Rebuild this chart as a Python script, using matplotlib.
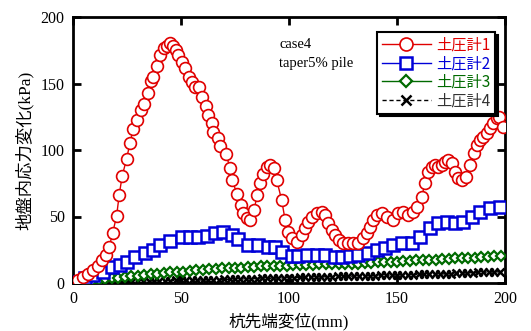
import matplotlib
matplotlib.use("Agg")
import matplotlib.pyplot as plt

# ---- data ----
red_x = [0, 2.5, 4.8, 7, 9.4, 11.5, 13.5, 15.5, 16.8, 18.4, 20.2, 21.4, 22.8, 24.8, 26.4, 27.9, 29.5,
         31.3, 32.9, 34.6, 36.1, 37.2, 39, 40.3, 42.3, 43.5, 44.9, 46.4, 47.5, 48.8, 50.6, 51.9, 53.9,
         55, 56.5, 58.5, 59.9, 61.6, 62.6, 64.2, 65, 67, 68, 70.8, 72.7, 73.8, 75.8, 77.6, 78.8, 80.7,
         81.9, 83.8, 85.3, 86.6, 88.1, 90, 91.2, 93.2, 94.3, 96.6, 98.2, 99.7, 101.2, 103.6, 105.9,
         107.4, 109, 110.5, 112.8, 115.1, 116.7, 118.2, 119.8, 121.3, 123.3, 125.2, 127.5, 129.8,
         132.1, 134.4, 136, 137.5, 139, 140.6, 142.9, 145.2, 148.3, 150.6, 152.9, 155.2, 157.6, 159.1,
         161.4, 163, 164.5, 166.1, 167.6, 169.1, 170.7, 172.2, 173.7, 175.3, 176.8, 178.4, 179.9,
         181.9, 183.8, 185.6, 186.9, 188.4, 189.9, 191.5, 193, 194.6, 196.1, 197.3, 199]
red_y = [0, 2, 4.7, 7, 10, 13, 17, 21, 27.3, 37.8, 50.6, 66.4, 80.7, 93.2, 105.5, 116, 122.6,
         130, 134.6, 142.6, 151.9, 155, 163, 171.5, 177, 178.5, 180.7, 178.2, 175, 171.5, 166, 161.4, 155,
         151.4, 147.6, 147.2, 140, 133, 126, 120, 113.8, 108.8, 103, 96.8, 86.7, 77.5, 67, 58.7, 52.4, 48.6,
         47.4, 54.9, 66.2, 75.4, 81.7, 87.5, 88.7, 86.2, 77.5, 62.4, 47.4, 38.6, 33.6, 31, 36.1,
         41.1, 46.1, 49.9, 52.9, 53.6, 51.1, 44.8, 39.7, 36.1, 32.3, 29.8, 29.8, 30.3,
         30.3, 33.6, 37.3, 42.4, 47.4, 51.1, 52.4, 49.9, 47.4, 52.4, 53.6, 51.1, 53.6, 57.4,
         64.9, 75, 83.7, 87.5, 88.7, 87.5, 88.7, 91.2, 92.5, 90, 83.7, 78.7, 77.4,
         79.9, 88.7, 97.5, 103.7, 107.5, 110, 112.5, 116.2, 120, 123.8, 125, 117.5]

blue_x = [0.9, 5.6, 9.4, 14, 17.9, 21.8, 25.2, 28.7, 33.3, 37.2, 40.3, 44.9, 50.3, 54.2, 58, 61.9,
          65.7, 69.6, 73.5, 76.5, 81.2, 85.8, 90.4, 93.5, 96.6, 101.2, 104.3, 108.2, 112.8, 116.7,
          121.3, 124.4, 128.2, 132.1, 136.7, 140.6, 144.5, 148.3, 152.2, 156.8, 160.7, 165.3, 169.1,
          173, 176.8, 180.7, 184.6, 188.4, 193, 197.7]
blue_y = [1, 3.5, 6, 8.5, 12.3, 13.5, 16, 19.3, 22.3, 24.8, 28.6, 31.8, 34.3, 34.8, 34.8, 35.4,
          37.4, 38.6, 36.1, 32.8, 28.6, 28.6, 27.3, 27.3, 23.6, 20.3, 20.3, 21.1, 21.1, 21.1,
          19.8, 19.8, 20.3, 21.1, 22.3, 24.8, 26.1, 28.6, 29.9, 29.9, 34.8, 41.1, 44.9,
          46.1, 44.9, 46.1, 49.9, 53.6, 56.2, 56.9]

green_x = [0, 3, 6, 9, 12, 15, 18, 21, 24, 27, 30, 33, 36, 39, 42, 45, 48, 51, 54, 57, 60, 63, 66,
           69, 72, 75, 78, 81, 84, 87, 90, 93, 96, 99, 102, 105, 108, 111, 114, 117, 120, 123, 126,
           129, 132, 135, 138, 141, 144, 147, 150, 153, 156, 159, 162, 165, 168, 171, 174, 177, 180,
           183, 186, 189, 192, 195, 198]
green_y = [0, 0.5, 1, 1.5, 2.5, 3, 3.5, 4, 4.5, 5, 5.5, 6, 6.5, 7, 7.5, 8, 8.5, 8.5, 9, 9.5, 10, 10.5, 10.5,
           11, 11, 11.5, 11.5, 12, 12, 12.5, 12.5, 13, 13, 13, 13.5, 13.5, 13.5, 13.5, 14, 14, 14, 14, 14.5,
           14.5, 14.5, 15, 15, 15.5, 15.5, 16, 16, 16.5, 16.5, 17, 17, 17.5, 17.5, 18, 18, 18.5, 18.5,
           19, 19, 19.5, 19.5, 20, 20.5]

black_x = [i * 2.5 for i in range(80)]
black_y = [0, 0.2, 0.4, 0.5, 0.6, 0.8, 0.9, 1, 1,
           1.1, 1.2, 1.2, 1.3, 1.4, 1.5, 1.5, 1.6, 1.7, 1.8, 1.9, 2,
           2, 2.1, 2.2, 2.3, 2.4, 2.5, 2.6, 2.7, 2.8, 2.9, 3, 3.1, 3.2, 3.3, 3.4, 3.5, 3.6, 3.7, 3.8, 4,
           4.1, 4.2, 4.3, 4.4, 4.5, 4.6, 4.7, 4.8, 4.9, 5, 5.1, 5.2, 5.3, 5.4, 5.5, 5.6, 5.7, 5.8, 5.9, 6,
           6.1, 6.2, 6.3, 6.4, 6.5, 6.6, 6.7, 6.8, 6.9, 7, 7.2, 7.4, 7.6, 7.8, 8, 8.1, 8.2, 8.3, 8.4]

labels = ["土圧計1", "土圧計2", "土圧計3", "土圧計4"]
xticks = [0, 50, 100, 150, 200]
yticks = [0, 50, 100, 150, 200]
xlabel = "杭先端変位(mm)"
ylabel = "地盤内応力変化(kPa)"
notes = ["case4", "taper5% pile"]

RED = "#e00000"
BLUE = "#0000d8"
GREEN = "#006a00"
BLACK = "#000000"

serif_cjk = ["Liberation Serif", "Noto Sans CJK JP"]
cjk = ["Noto Sans CJK JP", "DejaVu Sans"]

fig = plt.figure(figsize=(5.31, 3.31), dpi=100)
ax = fig.add_axes([73 / 531, 1 - 283 / 331, 432 / 531, 266 / 331])

ax.plot(black_x, black_y, color=BLACK, lw=1.0, ls=(0, (3, 2)), marker="x", ms=6, mew=1.8,
        label=labels[3], zorder=2)
ax.plot(green_x, green_y, color=GREEN, lw=1.0, marker="D", ms=5.5, mfc="white", mew=1.6,
        label=labels[2], zorder=3)
ax.plot(blue_x, blue_y, color=BLUE, lw=1.0, marker="s", ms=8.5, mfc="white", mew=1.8,
        label=labels[1], zorder=4)
ax.plot(red_x, red_y, color=RED, lw=1.0, marker="o", ms=8.5, mfc="white", mew=1.2,
        label=labels[0], zorder=5)

ax.set_xlim(0, 200)
ax.set_ylim(0, 200)
ax.set_xticks(xticks)
ax.set_yticks(yticks)
ax.tick_params(direction="in", length=6, width=2, top=True, right=True, labelsize=11.5, pad=6)
for lab in ax.get_xticklabels() + ax.get_yticklabels():
    lab.set_fontfamily("Liberation Serif")
for sp in ax.spines.values():
    sp.set_linewidth(2)

ax.set_xlabel(xlabel, family=serif_cjk, fontsize=12, labelpad=4)
ax.set_ylabel(ylabel, family=serif_cjk, fontsize=12.5, labelpad=5)

ax.text(95.4, 179, notes[0], family="Liberation Serif", fontsize=10.5, va="center", ha="left")
ax.text(95.4, 165.4, notes[1], family="Liberation Serif", fontsize=10.5, va="center", ha="left")

handles, labs = ax.get_legend_handles_labels()
order = [3, 2, 1, 0]
leg = ax.legend([handles[i] for i in order], [labs[i] for i in order],
                loc="upper right", bbox_to_anchor=(0.977, 0.944),
                prop={"family": cjk, "size": 11}, fancybox=False, frameon=True,
                edgecolor="black", framealpha=1, handlelength=3.2, handletextpad=0.35,
                labelspacing=0.1, borderpad=0.3, borderaxespad=0.0, markerscale=1.1,
                shadow={"color": "black", "alpha": 1})
leg.get_frame().set_linewidth(1.5)
text_colors = [RED, BLUE, GREEN, "#333333"]
for t, c in zip(leg.get_texts(), text_colors):
    t.set_color(c)

fig.savefig("out.png", dpi=100)
